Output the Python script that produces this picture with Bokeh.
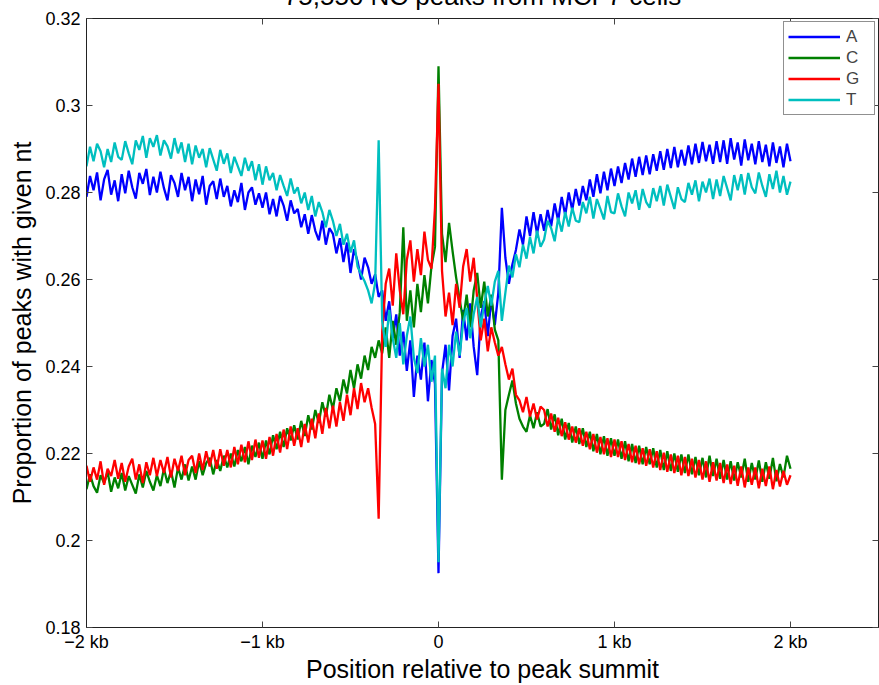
from bokeh.plotting import figure
from bokeh.models import (FixedTicker, CustomJSTickFormatter, LinearAxis, Legend,
                          LegendItem, Range1d)
from bokeh.embed import file_html
from bokeh.resources import INLINE

# ---- data (position relative to peak summit, bp; 20 bp bins) ----
pos_start, pos_step, n_pos = -2000, 20, 201
positions = [pos_start + pos_step * i for i in range(n_pos)]

A = [
 0.2790, 0.2838, 0.2805, 0.2846, 0.2782, 0.2830, 0.2852, 0.2795, 0.2828, 0.2780,
 0.2842, 0.2798, 0.2850, 0.2812, 0.2786, 0.2845, 0.2820, 0.2854, 0.2794, 0.2836,
 0.2800, 0.2848, 0.2810, 0.2782, 0.2840, 0.2822, 0.2790, 0.2845, 0.2805, 0.2836,
 0.2780, 0.2830, 0.2796, 0.2838, 0.2772, 0.2815, 0.2826, 0.2785, 0.2832, 0.2790,
 0.2815, 0.2768, 0.2805, 0.2778, 0.2822, 0.2760, 0.2800, 0.2812, 0.2772, 0.2798,
 0.2765, 0.2800, 0.2750, 0.2785, 0.2745, 0.2792, 0.2770, 0.2735, 0.2782, 0.2752,
 0.2762, 0.2720, 0.2750, 0.2705, 0.2748, 0.2712, 0.2690, 0.2735, 0.2680, 0.2718,
 0.2705, 0.2660, 0.2695, 0.2640, 0.2685, 0.2615, 0.2670, 0.2642, 0.2600, 0.2650,
 0.2628, 0.2590, 0.2612,
 0.2560,
 0.2575, 0.2505, 0.2550, 0.2465, 0.2520, 0.2425, 0.2480, 0.2390, 0.2460, 0.2330,
 0.2425, 0.2370, 0.2455, 0.2320, 0.2415, 0.2360,
 0.1925,
 0.2385, 0.2450, 0.2345, 0.2470, 0.2510, 0.2420, 0.2530, 0.2460, 0.2545, 0.2445,
 0.2380, 0.2515, 0.2550, 0.2470, 0.2555, 0.2495, 0.2570,
 0.2765,
 0.2650, 0.2590, 0.2635, 0.2668, 0.2715, 0.2680, 0.2745, 0.2700, 0.2755, 0.2705, 0.2750,
 0.2712, 0.2760, 0.2722, 0.2775, 0.2735, 0.2790, 0.2748, 0.2800, 0.2760, 0.2808,
 0.2770, 0.2815, 0.2782, 0.2830, 0.2790, 0.2842, 0.2798, 0.2848, 0.2805, 0.2855,
 0.2815, 0.2860, 0.2822, 0.2868, 0.2830, 0.2878, 0.2836, 0.2882, 0.2840, 0.2885,
 0.2842, 0.2888, 0.2850, 0.2895, 0.2852, 0.2900, 0.2856, 0.2905, 0.2858, 0.2898,
 0.2862, 0.2908, 0.2865, 0.2912, 0.2868, 0.2916, 0.2872, 0.2910, 0.2866, 0.2918,
 0.2870, 0.2920, 0.2866, 0.2925, 0.2876, 0.2915, 0.2862, 0.2922, 0.2874, 0.2912,
 0.2865, 0.2918, 0.2870, 0.2910, 0.2860, 0.2915, 0.2868, 0.2906, 0.2858, 0.2912, 0.2872,
]

C = [
 0.2118, 0.2152, 0.2125, 0.2110, 0.2150, 0.2132, 0.2158, 0.2112, 0.2145, 0.2120,
 0.2155, 0.2115, 0.2148, 0.2128, 0.2108, 0.2152, 0.2122, 0.2160, 0.2135, 0.2115,
 0.2150, 0.2125, 0.2165, 0.2132, 0.2160, 0.2122, 0.2168, 0.2140, 0.2175, 0.2138,
 0.2170, 0.2140, 0.2182, 0.2150, 0.2178, 0.2190, 0.2152, 0.2185, 0.2160, 0.2195,
 0.2168, 0.2200, 0.2170, 0.2208, 0.2182, 0.2215, 0.2175, 0.2218, 0.2192, 0.2225,
 0.2188, 0.2230, 0.2198, 0.2242, 0.2210, 0.2250, 0.2215, 0.2258, 0.2230, 0.2265,
 0.2232, 0.2275, 0.2240, 0.2288, 0.2255, 0.2300, 0.2270, 0.2318, 0.2285, 0.2335,
 0.2302, 0.2350, 0.2320, 0.2370, 0.2338, 0.2392, 0.2350, 0.2405, 0.2372, 0.2425,
 0.2392, 0.2445, 0.2420,
 0.2460,
 0.2430, 0.2490, 0.2420, 0.2505, 0.2450, 0.2525, 0.2720, 0.2505, 0.2575, 0.2490,
 0.2590, 0.2525, 0.2610, 0.2545, 0.2630, 0.2675,
 0.3090,
 0.2705, 0.2640, 0.2730, 0.2665, 0.2605, 0.2555, 0.2505, 0.2565, 0.2490, 0.2575,
 0.2615, 0.2535, 0.2595, 0.2515, 0.2565, 0.2485, 0.2460,
 0.2140,
 0.2300, 0.2335, 0.2368, 0.2315, 0.2280, 0.2262, 0.2250, 0.2288, 0.2258, 0.2295, 0.2262,
 0.2268, 0.2302, 0.2255, 0.2290, 0.2242, 0.2280, 0.2232, 0.2270, 0.2225, 0.2262,
 0.2222, 0.2258, 0.2215, 0.2250, 0.2205, 0.2245, 0.2198, 0.2240, 0.2195, 0.2235,
 0.2195, 0.2232, 0.2188, 0.2228, 0.2182, 0.2222, 0.2178, 0.2218, 0.2175, 0.2215,
 0.2175, 0.2212, 0.2168, 0.2208, 0.2162, 0.2205, 0.2160, 0.2200, 0.2158, 0.2198,
 0.2155, 0.2198, 0.2152, 0.2192, 0.2150, 0.2190, 0.2145, 0.2195, 0.2148, 0.2188,
 0.2142, 0.2185, 0.2140, 0.2182, 0.2138, 0.2180, 0.2145, 0.2188, 0.2135, 0.2178,
 0.2140, 0.2184, 0.2135, 0.2180, 0.2142, 0.2190, 0.2136, 0.2176, 0.2145, 0.2195, 0.2165,
]

G = [
 0.2172, 0.2135, 0.2168, 0.2140, 0.2182, 0.2128, 0.2165, 0.2148, 0.2185, 0.2142,
 0.2178, 0.2135, 0.2170, 0.2188, 0.2140, 0.2175, 0.2132, 0.2180, 0.2150, 0.2190,
 0.2148, 0.2185, 0.2155, 0.2192, 0.2145, 0.2188, 0.2160, 0.2195, 0.2150, 0.2185,
 0.2195, 0.2155, 0.2200, 0.2162, 0.2205, 0.2170, 0.2208, 0.2165, 0.2210, 0.2172,
 0.2208, 0.2168, 0.2215, 0.2175, 0.2220, 0.2180, 0.2228, 0.2185, 0.2232, 0.2190,
 0.2230, 0.2188, 0.2238, 0.2195, 0.2245, 0.2202, 0.2255, 0.2210, 0.2262, 0.2218,
 0.2258, 0.2215, 0.2268, 0.2225, 0.2280, 0.2235, 0.2292, 0.2245, 0.2305, 0.2258,
 0.2310, 0.2262, 0.2318, 0.2275, 0.2335, 0.2288, 0.2350, 0.2302, 0.2362, 0.2318,
 0.2350, 0.2305, 0.2268,
 0.2050,
 0.2480, 0.2590, 0.2625, 0.2540, 0.2660, 0.2575, 0.2520, 0.2645, 0.2690, 0.2595,
 0.2670, 0.2610, 0.2710, 0.2645, 0.2625, 0.2765,
 0.3050,
 0.2620, 0.2515, 0.2570, 0.2495, 0.2590, 0.2535, 0.2630, 0.2670, 0.2595, 0.2650,
 0.2555, 0.2460, 0.2510, 0.2435, 0.2490, 0.2455, 0.2425,
 0.2445,
 0.2405, 0.2370, 0.2395, 0.2335, 0.2322, 0.2295, 0.2330, 0.2285, 0.2315, 0.2278, 0.2308,
 0.2300, 0.2262, 0.2292, 0.2250, 0.2282, 0.2240, 0.2272, 0.2232, 0.2262, 0.2225,
 0.2258, 0.2218, 0.2250, 0.2210, 0.2245, 0.2202, 0.2238, 0.2198, 0.2235, 0.2192,
 0.2232, 0.2192, 0.2228, 0.2185, 0.2222, 0.2180, 0.2218, 0.2175, 0.2212, 0.2172,
 0.2210, 0.2168, 0.2205, 0.2162, 0.2202, 0.2158, 0.2198, 0.2155, 0.2195, 0.2150,
 0.2192, 0.2148, 0.2188, 0.2145, 0.2185, 0.2140, 0.2182, 0.2135, 0.2180, 0.2138,
 0.2178, 0.2132, 0.2175, 0.2130, 0.2172, 0.2126, 0.2170, 0.2122, 0.2168, 0.2128,
 0.2168, 0.2120, 0.2165, 0.2125, 0.2170, 0.2118, 0.2162, 0.2124, 0.2160, 0.2128, 0.2150,
]

T = [
 0.2860, 0.2905, 0.2872, 0.2912, 0.2895, 0.2858, 0.2900, 0.2870, 0.2915, 0.2882,
 0.2875, 0.2918, 0.2890, 0.2865, 0.2920, 0.2898, 0.2930, 0.2880, 0.2925, 0.2905,
 0.2932, 0.2885, 0.2920, 0.2906, 0.2878, 0.2925, 0.2890, 0.2915, 0.2870, 0.2912,
 0.2865, 0.2908, 0.2880, 0.2900, 0.2858, 0.2902, 0.2876, 0.2850, 0.2898, 0.2866,
 0.2890, 0.2845, 0.2882, 0.2860, 0.2838, 0.2880, 0.2850, 0.2872, 0.2828, 0.2865,
 0.2818, 0.2860, 0.2828, 0.2845, 0.2805, 0.2840, 0.2815, 0.2792, 0.2832, 0.2798,
 0.2812, 0.2775, 0.2800, 0.2760, 0.2792, 0.2745, 0.2778, 0.2755, 0.2720, 0.2760,
 0.2735, 0.2700, 0.2728, 0.2680, 0.2705, 0.2662, 0.2690, 0.2630, 0.2612, 0.2596,
 0.2575, 0.2545, 0.2592,
 0.2920,
 0.2505, 0.2445, 0.2530, 0.2465, 0.2420, 0.2500, 0.2405, 0.2470, 0.2515, 0.2420,
 0.2385, 0.2465, 0.2400, 0.2450, 0.2365, 0.2425,
 0.1950,
 0.2395, 0.2350, 0.2450, 0.2400, 0.2480, 0.2425, 0.2500, 0.2535, 0.2465, 0.2520,
 0.2560, 0.2490, 0.2545, 0.2585, 0.2540, 0.2595, 0.2620,
 0.2505,
 0.2570, 0.2632, 0.2605, 0.2658, 0.2628, 0.2680, 0.2648, 0.2698, 0.2660, 0.2712, 0.2675,
 0.2692, 0.2735, 0.2718, 0.2688, 0.2742, 0.2710, 0.2755, 0.2722, 0.2765, 0.2735,
 0.2732, 0.2778, 0.2752, 0.2790, 0.2740, 0.2785, 0.2762, 0.2738, 0.2792, 0.2755,
 0.2752, 0.2798, 0.2768, 0.2745, 0.2800, 0.2775, 0.2805, 0.2760, 0.2808, 0.2778,
 0.2765, 0.2810, 0.2780, 0.2815, 0.2770, 0.2818, 0.2790, 0.2762, 0.2812, 0.2785,
 0.2778, 0.2822, 0.2795, 0.2828, 0.2780, 0.2825, 0.2800, 0.2832, 0.2785, 0.2830,
 0.2792, 0.2838, 0.2810, 0.2782, 0.2840, 0.2805, 0.2842, 0.2795, 0.2845, 0.2812,
 0.2798, 0.2846, 0.2815, 0.2790, 0.2842, 0.2808, 0.2850, 0.2800, 0.2838, 0.2795, 0.2825,
]

series_names = ["A", "C", "G", "T"]
series_values = [A, C, G, T]
series_colors = ["#0000ff", "#008000", "#ff0000", "#00bfbf"]

x_ticks = [-2000, -1000, 0, 1000, 2000]
x_tick_labels = ["\u22122 kb", "\u22121 kb", "0", "1 kb", "2 kb"]
y_ticks = [0.18, 0.20, 0.22, 0.24, 0.26, 0.28, 0.30, 0.32]

title_text = "75,550 NC peaks from MCF7 cells"
x_label = "Position relative to peak summit"
y_label = "Proportion of peaks with given nt"

FONT = "Liberation Sans"
CROP = 29   # the reference shows only the lowest few pixels of its title

p = figure(width=879, height=685 + CROP, output_backend="svg", toolbar_location=None,
           x_range=Range1d(-2000, 2500), y_range=Range1d(0.18, 0.32),
           min_border_left=86, min_border_right=1, min_border_top=0,
           min_border_bottom=53, margin=(-CROP, 0, 0, 0))
p.background_fill_color = "white"
p.border_fill_color = "white"
p.outline_line_color = "#222222"
p.outline_line_width = 1
p.xgrid.visible = False
p.ygrid.visible = False

p.title.text = title_text
p.title.align = "center"
p.title.text_font = FONT
p.title.text_font_size = "26px"
p.title.text_font_style = "normal"
p.title.text_color = "black"
p.title.standoff = 15

renderers = []
for name, vals, col in zip(series_names, series_values, series_colors):
    r = p.line(positions, vals, line_color=col, line_width=2.3)
    renderers.append((name, r))

def style_axis(ax, labels=True):
    ax.axis_line_color = "#222222"
    ax.major_tick_line_color = "#444444"
    ax.major_tick_in = 6
    ax.major_tick_out = 0
    ax.minor_tick_line_color = None
    ax.major_label_text_font = FONT
    ax.major_label_text_font_size = "18px"
    ax.major_label_text_color = "black" if labels else None
    ax.axis_label_text_font = FONT
    ax.axis_label_text_font_style = "normal"
    ax.axis_label_text_color = "black"

xa = p.xaxis[0]
xa.ticker = FixedTicker(ticks=x_ticks)
xa.major_label_overrides = {t: l for t, l in zip(x_ticks, x_tick_labels)}
style_axis(xa)
xa.major_label_standoff = 4
xa.axis_label = x_label
xa.axis_label_text_font_size = "25px"
xa.axis_label_standoff = 0

ya = p.yaxis[0]
ya.ticker = FixedTicker(ticks=y_ticks)
ya.formatter = CustomJSTickFormatter(code="return String(Math.round(tick*100)/100);")
style_axis(ya)
ya.major_label_standoff = 6
ya.axis_label = y_label
ya.axis_label_text_font_size = "25px"
ya.axis_label_standoff = 6

top = LinearAxis(ticker=FixedTicker(ticks=x_ticks), major_label_overrides={t: "" for t in x_ticks})
style_axis(top, labels=False)
top.major_label_standoff = 0
p.add_layout(top, "above")

right = LinearAxis(ticker=FixedTicker(ticks=y_ticks), major_label_overrides={t: "" for t in y_ticks})
style_axis(right, labels=False)
right.major_label_standoff = 0
p.add_layout(right, "right")

legend = Legend(items=[LegendItem(label=n, renderers=[r]) for n, r in renderers],
                location=(697, 512))
legend.label_text_font = FONT
legend.label_text_font_size = "17px"
legend.glyph_width = 52
legend.glyph_height = 21
legend.label_height = 21
legend.label_width = 24
legend.spacing = 0
legend.padding = 4
legend.margin = 0
legend.label_standoff = 6
legend.border_line_color = "#222222"
legend.border_line_width = 1
legend.background_fill_alpha = 1
p.add_layout(legend, "center")

open("out.html", "w").write(file_html(p, INLINE))
